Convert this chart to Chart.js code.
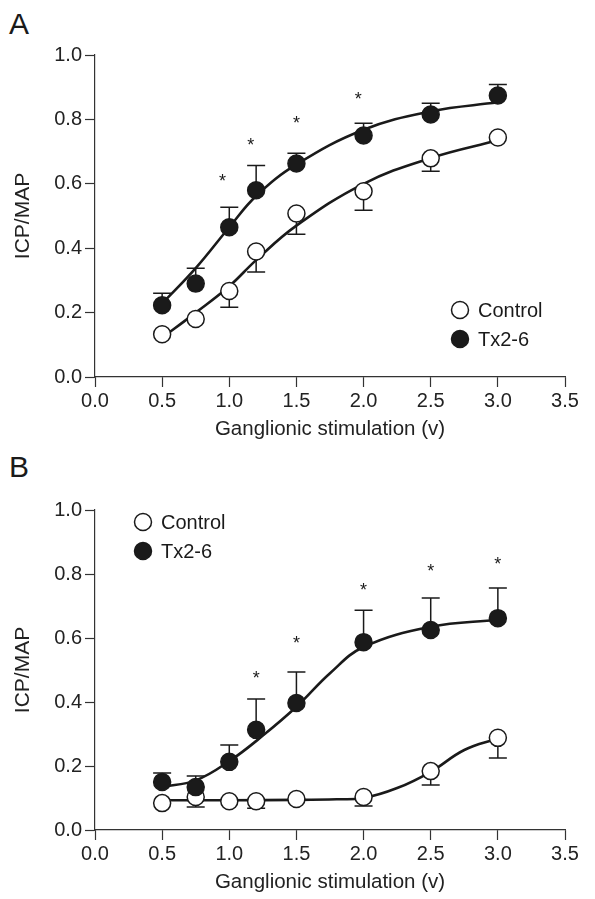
<!DOCTYPE html>
<html>
<head>
<meta charset="utf-8">
<script src="https://cdn.jsdelivr.net/npm/chart.js@4.4.0/dist/chart.umd.min.js"></script>
<style>
  html, body { margin: 0; padding: 0; background: #fff; }
  body { width: 595px; height: 899px; position: relative; overflow: hidden; font-family: "Liberation Sans", Arial, sans-serif; }
  canvas { position: absolute; left: 0; }
  .panel { position: absolute; left: 9px; font-size: 30px; color: #1a1a1a; line-height: 1; }
</style>
</head>
<body>
<div class="panel" style="top:9px">A</div>
<canvas id="chartA" width="595" height="450" style="top:0"></canvas>
<div class="panel" style="top:452px">B</div>
<canvas id="chartB" width="595" height="459" style="top:440px"></canvas>
<script>
// stimulation voltages
const volts = [0.5, 0.75, 1.0, 1.2, 1.5, 2.0, 2.5, 3.0];

// panel A
const ctrlA = [0.133, 0.18, 0.267, 0.39, 0.508, 0.577, 0.679, 0.744];
const ctrlErrA = [0, 0, 0.05, 0.064, 0.065, 0.059, 0.04, 0];
const txA = [0.223, 0.29, 0.465, 0.58, 0.663, 0.75, 0.815, 0.874];
const txErrA = [0.037, 0.048, 0.062, 0.077, 0.032, 0.038, 0.035, 0.034];
const fitCtrlAx = [0.5, 0.75, 1.0, 1.2, 1.5, 2.0, 2.5, 3.0];
const fitCtrlAy = [0.122, 0.2, 0.282, 0.363, 0.47, 0.6, 0.68, 0.735];
const fitTxAx = [0.5, 0.75, 1.0, 1.2, 1.5, 2.0, 2.5, 3.0];
const fitTxAy = [0.228, 0.338, 0.465, 0.562, 0.66, 0.768, 0.825, 0.853];
const starAx = [0.95, 1.16, 1.5, 1.96];
const starAy = [0.617, 0.729, 0.797, 0.874];

// panel B
const ctrlB = [0.084, 0.103, 0.09, 0.09, 0.097, 0.103, 0.184, 0.288];
const ctrlErrB = [0, 0.031, 0, 0.022, 0, 0.028, 0.043, 0.063];
const txB = [0.15, 0.134, 0.213, 0.313, 0.397, 0.587, 0.625, 0.662];
const txErrB = [0.028, 0.035, 0.053, 0.096, 0.097, 0.1, 0.1, 0.094];
const fitCtrlBx = [0.5, 1.0, 1.5, 1.8, 2.0, 2.25, 2.5, 2.75, 3.0];
const fitCtrlBy = [0.093, 0.093, 0.094, 0.096, 0.1, 0.131, 0.182, 0.25, 0.286];
const fitTxBx = [0.5, 0.75, 1.0, 1.25, 1.5, 1.75, 2.0, 2.5, 3.0];
const fitTxBy = [0.135, 0.155, 0.215, 0.295, 0.385, 0.49, 0.572, 0.635, 0.657];
const starBx = [1.2, 1.5, 2.0, 2.5, 3.0];
const starBy = [0.484, 0.594, 0.76, 0.82, 0.84];

const xTicks = [0, 0.5, 1, 1.5, 2, 2.5, 3, 3.5];
const yTicks = [0, 0.2, 0.4, 0.6, 0.8, 1.0];
const legendLabels = ["Control", "Tx2-6"];

const INK = "#1a1a1a";
const AXIS = "#333";
const FONT = "'Liberation Sans', Arial, sans-serif";

const zip = (xs, ys) => xs.map((x, i) => ({ x, y: ys[i] }));

const errorBars = {
  id: "errorBars",
  beforeDatasetsDraw(chart) {
    const { ctx, scales: { x, y } } = chart;
    ctx.save();
    ctx.strokeStyle = INK;
    ctx.lineWidth = 1.5;
    chart.data.datasets.forEach((ds) => {
      if (!ds.err) return;
      ds.data.forEach((p, i) => {
        const e = ds.err[i];
        if (!e) return;
        const px = x.getPixelForValue(p.x);
        const py = y.getPixelForValue(p.y);
        const ey = y.getPixelForValue(p.y + ds.errDir * e);
        ctx.beginPath();
        ctx.moveTo(px, py);
        ctx.lineTo(px, ey);
        ctx.moveTo(px - 9, ey);
        ctx.lineTo(px + 9, ey);
        ctx.stroke();
      });
    });
    ctx.restore();
  }
};

const stars = {
  id: "stars",
  afterDatasetsDraw(chart, args, opts) {
    const { ctx, scales: { x, y } } = chart;
    ctx.save();
    ctx.fillStyle = INK;
    ctx.font = "18px " + FONT;
    ctx.textAlign = "center";
    ctx.textBaseline = "middle";
    opts.xs.forEach((v, i) => {
      ctx.fillText("*", x.getPixelForValue(v), y.getPixelForValue(opts.ys[i]) + 4);
    });
    ctx.restore();
  }
};

const miniLegend = {
  id: "miniLegend",
  afterDraw(chart, args, opts) {
    const { ctx } = chart;
    ctx.save();
    ctx.font = "20px " + FONT;
    ctx.textBaseline = "middle";
    legendLabels.forEach((label, i) => {
      const cy = opts.top + i * 29;
      ctx.beginPath();
      ctx.arc(opts.left, cy, 8.5, 0, Math.PI * 2);
      ctx.fillStyle = i === 0 ? "#fff" : INK;
      ctx.fill();
      ctx.lineWidth = 1.5;
      ctx.strokeStyle = INK;
      ctx.stroke();
      ctx.fillStyle = INK;
      ctx.fillText(label, opts.left + 18, cy + 1);
    });
    ctx.restore();
  }
};

function makeChart(id, ctrl, ctrlErr, tx, txErr, fitC, fitT, starX, starY, pad, legendPos) {
  return new Chart(document.getElementById(id), {
    type: "scatter",
    data: {
      datasets: [
        { data: zip(volts, tx), err: txErr, errDir: 1, pointRadius: 8.5, pointBackgroundColor: INK, pointBorderColor: INK, pointBorderWidth: 1.5, showLine: false },
        { data: zip(volts, ctrl), err: ctrlErr, errDir: -1, pointRadius: 8.5, pointBackgroundColor: "#fff", pointBorderColor: INK, pointBorderWidth: 1.5, showLine: false },
        { data: fitT, showLine: true, pointRadius: 0, borderColor: INK, borderWidth: 2.6, tension: 0.4 },
        { data: fitC, showLine: true, pointRadius: 0, borderColor: INK, borderWidth: 2.6, tension: 0.4 }
      ]
    },
    options: {
      responsive: false,
      animation: false,
      clip: false,
      layout: { padding: pad },
      plugins: {
        legend: { display: false },
        tooltip: { enabled: false },
        stars: { xs: starX, ys: starY },
        miniLegend: legendPos
      },
      scales: {
        x: {
          type: "linear", min: 0, max: 3.5,
          afterBuildTicks: (s) => { s.ticks = xTicks.map((v) => ({ value: v })); },
          afterFit: (s) => { s.height = 68; },
          ticks: { color: "#222", font: { family: FONT, size: 20 }, padding: 2, callback: (v) => v.toFixed(1), maxRotation: 0 },
          grid: { drawOnChartArea: false, drawTicks: true, tickLength: 10, tickColor: AXIS, tickWidth: 1.2 },
          border: { display: true, color: AXIS, width: 1.2 },
          title: { display: true, text: "Ganglionic stimulation (v)", color: "#222", font: { family: FONT, size: 20.5 }, padding: { top: 4, bottom: 3 } }
        },
        y: {
          type: "linear", min: 0, max: 1,
          afterBuildTicks: (s) => { s.ticks = yTicks.map((v) => ({ value: v })); },
          afterFit: (s) => { s.width = 87; },
          ticks: { color: "#222", font: { family: FONT, size: 20 }, padding: 3, callback: (v) => v.toFixed(1) },
          grid: { drawOnChartArea: false, drawTicks: true, tickLength: 10, tickColor: AXIS, tickWidth: 1.2 },
          border: { display: true, color: AXIS, width: 1.2 },
          title: { display: true, text: "ICP/MAP", color: "#222", font: { family: FONT, size: 21 }, padding: { top: 3, bottom: 4 } }
        }
      }
    },
    plugins: [errorBars, stars, miniLegend]
  });
}

makeChart("chartA", ctrlA, ctrlErrA, txA, txErrA,
  zip(fitCtrlAx, fitCtrlAy), zip(fitTxAx, fitTxAy), starAx, starAy,
  { top: 55, right: 30, bottom: 5, left: 8 }, { left: 460, top: 310 });

makeChart("chartB", ctrlB, ctrlErrB, txB, txErrB,
  zip(fitCtrlBx, fitCtrlBy), zip(fitTxBx, fitTxBy), starBx, starBy,
  { top: 70, right: 30, bottom: 1, left: 8 }, { left: 143, top: 82 });
</script>
</body>
</html>
